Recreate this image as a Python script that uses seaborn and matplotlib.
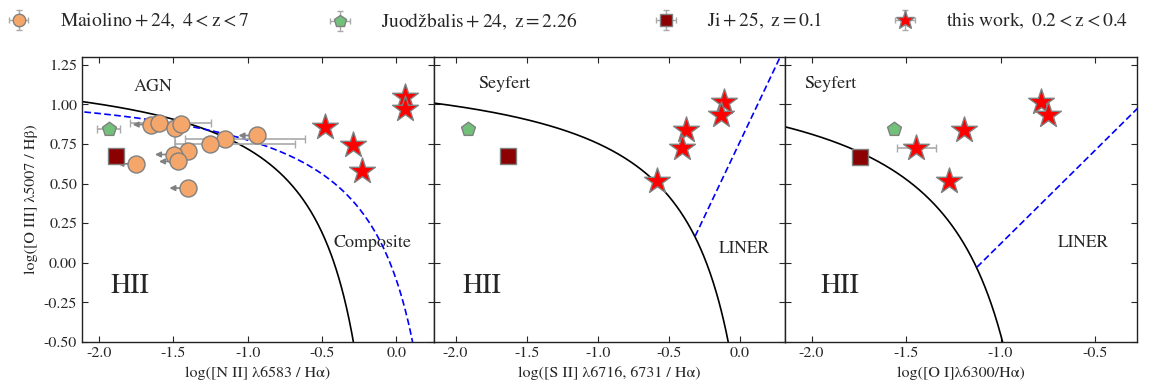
import numpy as np
import pandas as pd
import seaborn as sns
import matplotlib.pyplot as plt

# ---- data ----
# Maiolino+24 (only in the [N II] panel)
mai_nii = [-1.649, -1.595, -1.487, -1.447, -1.155, -0.937, -1.252, -1.402, -1.499, -1.472, -1.752, -1.402]
mai_oiii = [0.873, 0.882, 0.852, 0.877, 0.783, 0.804, 0.748, 0.704, 0.684, 0.640, 0.625, 0.472]
mai_xerr_lo = [0, 0.195, 0, 0, 0.264, 0, 0.236, 0, 0, 0, 0, 0]
mai_xerr_hi = [0, 0.350, 0, 0, 0.543, 0, 0.572, 0, 0, 0, 0, 0]
mai_yerr_lo = [0, 0, 0.17, 0, 0, 0, 0, 0, 0, 0, 0, 0]
mai_uplim = [1, 0, 0, 0, 0, 1, 0, 0, 1, 1, 1, 1]

# Juodzbalis+24
juo_x = [-1.936, -1.911, -1.564]
juo_y = [0.842, 0.842, 0.842]
juo_xerr = [0.077, 0, 0]

# Ji+25
ji_x = [-1.884, -1.629, -1.746]
ji_y = [0.672, 0.672, 0.667]

# this work
tw_nii = [0.061, 0.061, -0.483, -0.294, -0.229]
tw_oiii_nii = [1.045, 0.972, 0.856, 0.747, 0.577]
tw_sii = [-0.110, -0.134, -0.380, -0.404, -0.585]
tw_oi = [-0.787, -0.748, -1.191, -1.445, -1.275]
tw_oiii = [1.014, 0.936, 0.839, 0.726, 0.518]
tw_oi_xerr = [0, 0, 0, 0.104, 0]

xlims = [(-2.115, 0.25), (-2.155, 0.32), (-2.14, -0.28)]
xlabels = ['log([N II] λ6583 / Hα)',
           'log([S II] λ6716, 6731 / Hα)',
           'log([O I]λ6300/Hα)']
legend_labels = [r'$\mathrm{Maiolino+24,\ 4<z<7}$',
                 r'$\mathrm{Juodžbalis+24,\ z=2.26}$',
                 r'$\mathrm{Ji+25,\ z=0.1}$',
                 r'$\mathrm{this\ work,\ 0.2<z<0.4}$']

sns.set_style('ticks')
plt.rcParams['font.family'] = ['STIXGeneral', 'DejaVu Serif']
plt.rcParams['mathtext.fontset'] = 'stix'
plt.rcParams['xtick.direction'] = 'in'
plt.rcParams['ytick.direction'] = 'in'
plt.rcParams['xtick.top'] = True
plt.rcParams['ytick.right'] = True
plt.rcParams['axes.edgecolor'] = '#222222'

c_mai = '#F5A66A'
c_juo = '#72C17A'
c_ji = '#8B0000'
c_tw = '#FF0000'
c_edge = 'grey'

fig, axes = plt.subplots(1, 3, sharey=True, figsize=(11.61, 3.9), dpi=100)
fig.subplots_adjust(left=0.0706, right=0.979, bottom=0.123, top=0.854, wspace=0)


def scatter(ax, x, y, marker, size, color, z):
    sns.scatterplot(x=x, y=y, ax=ax, marker=marker, s=size, color=color,
                    edgecolor=c_edge, linewidth=1.0, zorder=z, legend=False)


def left_arrow(ax, x, y, length=0.125):
    ax.annotate('', xy=(x - length, y), xytext=(x, y),
                arrowprops=dict(arrowstyle='-|>', color='grey', lw=1.2,
                                mutation_scale=8, shrinkA=0, shrinkB=0), zorder=2)


ebkw = dict(fmt='none', ecolor='darkgrey', elinewidth=1.2, capsize=3, zorder=2)

# ---- panel 1 : [N II] ----
ax = axes[0]
x = np.linspace(-2.3, 0.04, 400)
y = 0.61 / (x - 0.05) + 1.30          # Kauffmann+03
ax.plot(x, y, color='black', lw=1.2, zorder=1)
x = np.linspace(-2.3, 0.46, 400)
y = 0.61 / (x - 0.47) + 1.19          # Kewley+01
ax.plot(x, y, color='blue', lw=1.2, ls='--', dashes=(4, 2), zorder=1)

ax.errorbar(mai_nii, mai_oiii, xerr=[mai_xerr_lo, mai_xerr_hi], yerr=[mai_yerr_lo, [0] * 12], **ebkw)
for xi, yi, up in zip(mai_nii, mai_oiii, mai_uplim):
    if up:
        left_arrow(ax, xi, yi)
scatter(ax, mai_nii, mai_oiii, 'o', 150, c_mai, 3)
ax.errorbar(juo_x[0], juo_y[0], xerr=juo_xerr[0], **ebkw)
scatter(ax, [juo_x[0]], [juo_y[0]], 'p', 110, c_juo, 3)
scatter(ax, [ji_x[0]], [ji_y[0]], 's', 120, c_ji, 3)
scatter(ax, tw_nii, tw_oiii_nii, '*', 380, c_tw, 4)

ax.text(-1.77, 1.108, 'AGN', fontsize=13, va='center')
ax.text(-0.424, 0.126, 'Composite', fontsize=13, va='center')
ax.text(-1.925, -0.151, 'HII', fontsize=20, va='center')

# ---- panel 2 : [S II] ----
ax = axes[1]
xs = np.linspace(-2.3, 0.31, 600)
ys = 0.72 / (xs - 0.32) + 1.30        # Kewley+01
ax.plot(xs, ys, color='black', lw=1.2, zorder=1)
yl = 1.89 * xs + 0.76                 # Kewley+06
m = yl > ys
ax.plot(xs[m], yl[m], color='blue', lw=1.2, ls='--', dashes=(4, 2), zorder=1)
scatter(ax, [juo_x[1]], [juo_y[1]], 'p', 110, c_juo, 3)
scatter(ax, [ji_x[1]], [ji_y[1]], 's', 120, c_ji, 3)
scatter(ax, tw_sii, tw_oiii, '*', 380, c_tw, 4)
ax.text(-1.838, 1.127, 'Seyfert', fontsize=13, va='center')
ax.text(-0.148, 0.088, 'LINER', fontsize=12.5, va='center')
ax.text(-1.951, -0.151, 'HII', fontsize=20, va='center')

# ---- panel 3 : [O I] ----
ax = axes[2]
xs = np.linspace(-2.3, -0.6, 600)
ys = 0.73 / (xs + 0.59) + 1.33        # Kewley+01
ax.plot(xs, ys, color='black', lw=1.2, zorder=1)
xl = np.linspace(-2.3, 0.0, 600)
yl = 1.18 * xl + 1.30                 # Kewley+06
yc = np.where(xl < -0.59, 0.73 / (xl + 0.59 - 1e-9) + 1.33, 10)
m = (yl > yc) | (xl >= -0.59)
ax.plot(xl[m], yl[m], color='blue', lw=1.2, ls='--', dashes=(4, 2), zorder=1)
scatter(ax, [juo_x[2]], [juo_y[2]], 'p', 110, c_juo, 3)
scatter(ax, [ji_x[2]], [ji_y[2]], 's', 120, c_ji, 3)
ax.errorbar(tw_oi, tw_oiii, xerr=tw_oi_xerr, **ebkw)
scatter(ax, tw_oi, tw_oiii, '*', 380, c_tw, 4)
ax.text(-2.037, 1.127, 'Seyfert', fontsize=13, va='center')
ax.text(-0.697, 0.126, 'LINER', fontsize=12.5, va='center')
ax.text(-1.952, -0.151, 'HII', fontsize=20, va='center')

for ax, xl_, lab in zip(axes, xlims, xlabels):
    ax.set_xlim(xl_)
    ax.set_ylim(-0.5, 1.3)
    ax.set_xlabel(lab, fontsize=11.5)
    ax.tick_params(labelsize=11.5, length=4, width=0.8)
    for s in ax.spines.values():
        s.set_linewidth(1.0)
axes[0].set_yticks(np.arange(-0.5, 1.26, 0.25))
axes[0].yaxis.set_major_formatter(plt.FormatStrFormatter('%.2f'))
axes[0].set_ylabel('log([O III] λ5007 / Hβ)', fontsize=11.5)
for ax in axes:
    ax.xaxis.set_major_formatter(plt.FormatStrFormatter('%.1f'))

# legend: one entry per legend so each sits where it does in the original
leg_x = [3, 324.5, 650.5, 889.5]   # pixel left edge of each entry
styles = [('o', 9, c_mai), ('p', 9, c_juo), ('s', 9, c_ji), ('*', 14, c_tw)]
for (mk, ms, col), lab, px in zip(styles, legend_labels, leg_x):
    h = axes[0].errorbar([np.nan], [np.nan], xerr=[0.1], yerr=[0.1], fmt=mk, ms=ms,
                         mfc=col, mec=c_edge, ecolor='darkgrey', elinewidth=1, capsize=2)
    fig.legend([h], [lab], loc='upper left', bbox_to_anchor=(px / 1161, 0.972),
               frameon=False, fontsize=14, handletextpad=1.31, handlelength=1.6,
               borderpad=0, borderaxespad=0)

fig.savefig('out.png', dpi=100)
